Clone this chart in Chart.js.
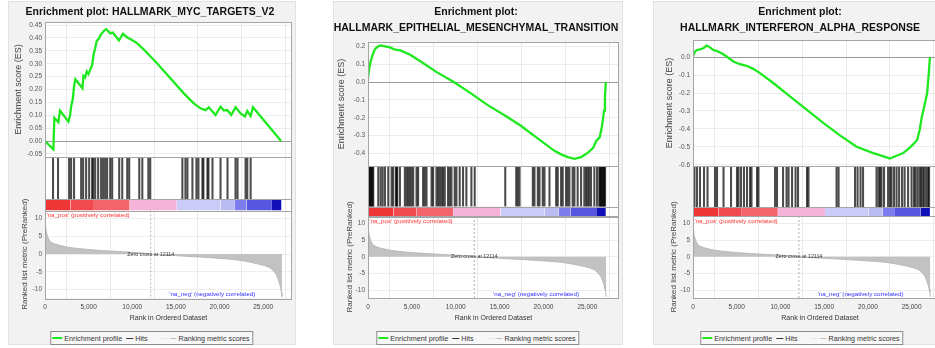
<!DOCTYPE html>
<html>
<head>
<meta charset="utf-8">
<script src="https://cdn.jsdelivr.net/npm/chart.js@4.4.0/dist/chart.umd.min.js"></script>
<style>
  body { margin: 0; width: 935px; height: 348px; overflow: hidden; background: #fff; position: relative; }
  .panel { position: absolute; top: 1px; height: 344px; background: #f2f2f2; border: 1px solid #e2e2e2; box-sizing: border-box; }
  .panel canvas { position: absolute; left: -1px; top: -2px; }
  .legend { position: absolute; top: 329px; left: 50%; transform: translateX(-50%); height: 14px; box-sizing: border-box;
            border: 1px solid #8a8a8a; background: #f7f7f7; display: flex; align-items: center; padding: 0 3px 0 1px;
            font: 7.2px "Liberation Sans", Arial, sans-serif; color: #333; white-space: nowrap; }
  .sw { display: inline-block; height: 0; border-top: 2px solid; }
</style>
</head>
<body>
<div class="panel" style="left:8px;width:288px">
  <canvas id="c1" width="288" height="326"></canvas>
  <div class="legend"><span class="sw" style="width:10px;border-color:#1ee81e;margin-right:2px"></span>Enrichment profile<span class="sw" style="width:7px;border-top-width:1px;border-color:#333;margin:0 2px 0 4px"></span>Hits<span class="sw" style="width:8px;border-top-width:1px;border-color:#e6e6e6;margin:0 2px 0 13px"></span><span class="sw" style="width:6px;border-top-width:1px;border-color:#bbb;margin-right:2px"></span>Ranking metric scores</div>
</div>
<div class="panel" style="left:333px;width:290px">
  <canvas id="c2" width="290" height="326"></canvas>
  <div class="legend"><span class="sw" style="width:10px;border-color:#1ee81e;margin-right:2px"></span>Enrichment profile<span class="sw" style="width:7px;border-top-width:1px;border-color:#333;margin:0 2px 0 4px"></span>Hits<span class="sw" style="width:8px;border-top-width:1px;border-color:#e6e6e6;margin:0 2px 0 13px"></span><span class="sw" style="width:6px;border-top-width:1px;border-color:#bbb;margin-right:2px"></span>Ranking metric scores</div>
</div>
<div class="panel" style="left:653px;width:298px">
  <canvas id="c3" width="298" height="326"></canvas>
  <div class="legend"><span class="sw" style="width:10px;border-color:#1ee81e;margin-right:2px"></span>Enrichment profile<span class="sw" style="width:7px;border-top-width:1px;border-color:#333;margin:0 2px 0 4px"></span>Hits<span class="sw" style="width:8px;border-top-width:1px;border-color:#e6e6e6;margin:0 2px 0 13px"></span><span class="sw" style="width:6px;border-top-width:1px;border-color:#bbb;margin-right:2px"></span>Ranking metric scores</div>
</div>

<script>
// tick values
const rankTicks = [0, 5000, 10000, 15000, 20000, 25000];
const metricTicks = [-10, -5, 0, 5, 10];
const mycTicks = [-0.05, 0, 0.05, 0.1, 0.15, 0.2, 0.25, 0.3, 0.35, 0.4, 0.45];
const emtTicks = [-0.4, -0.3, -0.2, -0.1, 0, 0.1, 0.2];
const ifnTicks = [-0.6, -0.5, -0.4, -0.3, -0.2, -0.1, 0];

// ranked list (shared by all three plots)
const metricRank = [0, 60, 150, 300, 500, 800, 1200, 1800, 2500, 3500, 4500, 5500, 6500, 7500, 8500, 9500, 10500, 11300, 12114,
  13000, 14000, 15000, 16000, 17000, 18000, 19000, 20000, 21000, 22000, 23000, 23800, 24500, 25200, 25800, 26200, 26500, 26750, 26900, 27000, 27080, 27150];
const metricValue = [10.2, 8.2, 6.4, 4.9, 3.9, 3.2, 2.8, 2.4, 2.0, 1.65, 1.4, 1.2, 1.0, 0.87, 0.72, 0.58, 0.42, 0.23, 0,
  -0.15, -0.3, -0.45, -0.6, -0.75, -0.9, -1.05, -1.22, -1.42, -1.65, -2.05, -2.45, -2.85, -3.3, -3.9, -4.8, -5.8, -7.3, -8.6, -9.7, -10.8, -12.0];
const zeroCross = 12114;

// phenotype colour bar
const cbarEdges = [0, 2900, 5500, 9700, 15100, 20100, 21700, 23100, 26000, 27100];
const cbarColors = ['#ee3636', '#f04a4e', '#f2636c', '#f5b3da', '#cbcbf7', '#bbbbf3', '#7c7cee', '#5656e0', '#1010b8'];

// HALLMARK_MYC_TARGETS_V2
const mycRank = [0, 958, 1073, 1532, 1724, 2682, 2873, 2988, 3180, 3333, 3486, 4291, 4406, 4597, 4789, 4980, 5248, 5402, 5555, 5747,
  5938, 6130, 6321, 6513, 6781, 7011, 7164, 7470, 7777, 8467, 8926, 9386, 9961, 10535, 11301, 12834, 14366, 15899, 17048, 17814,
  18389, 18772, 19040, 19538, 20113, 20496, 20879, 21339, 21837, 22411, 22909, 23178, 23561, 23829, 27050];
const mycES = [0, -0.032, 0.09, 0.073, 0.118, 0.075, 0.10, 0.133, 0.162, 0.214, 0.24, 0.205, 0.253, 0.247, 0.27, 0.26, 0.282, 0.295, 0.334, 0.36,
  0.39, 0.395, 0.408, 0.418, 0.429, 0.434, 0.429, 0.418, 0.421, 0.39, 0.416, 0.403, 0.392, 0.38, 0.356, 0.302, 0.244, 0.185, 0.146, 0.127,
  0.12, 0.131, 0.12, 0.101, 0.133, 0.118, 0.12, 0.101, 0.131, 0.107, 0.095, 0.117, 0.097, 0.131, 0];
const mycHits = [920, 1490, 2760, 2990, 3330, 4140, 4370, 4710, 5060, 5400, 5520, 5750, 6090, 6430, 6660, 6890, 7120, 7470, 7700, 8500,
  8850, 9420, 9650, 10800, 11150, 11840, 12060, 15740, 16090, 16320, 16890, 17350, 17580, 18040, 18150, 18610, 18730, 19190, 20110,
  20910, 21830, 22060, 22980, 23180, 23560];

// HALLMARK_EPITHELIAL_MESENCHYMAL_TRANSITION
const emtRank = [0, 150, 300, 530, 800, 1180, 1450, 1950, 2520, 3090, 3670, 4810, 5960, 7870, 9780, 11690, 13600, 15510, 17420, 19330,
  21240, 22000, 22770, 23530, 24300, 25060, 25630, 26010, 26400, 26650, 26900, 27000, 27100];
const emtES = [0.022, 0.078, 0.115, 0.153, 0.185, 0.2, 0.205, 0.2, 0.194, 0.181, 0.177, 0.153, 0.116, 0.054, 0.0, -0.062, -0.128, -0.185, -0.245, -0.315,
  -0.385, -0.405, -0.42, -0.43, -0.42, -0.395, -0.37, -0.33, -0.31, -0.25, -0.16, -0.08, 0.0];
const emtHits = [30, 120, 230, 330, 420, 520, 600, 1170, 1440, 1670, 1930, 2310, 2690, 2870, 3180, 3260, 3330, 3640, 4200, 4400, 4580, 4770,
  4960, 5150, 5530, 5710, 6280, 6470, 6670, 7240, 7420, 7800, 7990, 8180, 8370, 8550, 8750, 9120, 9320, 9510, 9880, 10080, 10450, 10830,
  11210, 11780, 12160, 15640, 16890, 17070, 17270, 18780, 18970, 19350, 19540, 19910, 20110, 20680, 21440, 21620, 22000, 22190, 22570,
  22760, 22950, 23320, 23520, 23890, 24280, 24650, 24850, 25030, 25200, 25410, 25790, 26100, 26350, 26450, 26550, 26640, 26740, 26830,
  26920, 27010];

// HALLMARK_INTERFERON_ALPHA_RESPONSE
const ifnRank = [0, 150, 420, 800, 1180, 1560, 1940, 2320, 2700, 3280, 3850, 4610, 5370, 6130, 6900, 7660, 9180, 11090, 12990, 14900,
  16800, 18710, 20610, 21000, 22140, 22520, 23280, 24040, 24800, 25380, 25650, 25950, 26140, 26330, 26560, 26780, 26950, 27100];
const ifnES = [0.004, 0.026, 0.04, 0.044, 0.05, 0.065, 0.055, 0.04, 0.035, 0.022, 0.004, -0.024, -0.039, -0.048, -0.065, -0.089, -0.144, -0.218, -0.292, -0.366,
  -0.436, -0.5, -0.535, -0.541, -0.559, -0.565, -0.55, -0.535, -0.504, -0.476, -0.46, -0.4, -0.34, -0.3, -0.25, -0.2, -0.1, 0.0];
const ifnHits = [170, 460, 800, 1260, 1660, 2520, 2750, 3490, 4350, 5030, 5210, 5490, 5830, 6180, 6520, 6690, 7320, 7490, 9380, 9610,
  10300, 10700, 10930, 11330, 11730, 12010, 13040, 13210, 16420, 16650, 18530, 18820, 19160, 19450, 20990, 21220, 21390, 21560, 21850,
  22310, 22540, 22710, 22990, 23280, 23570, 23910, 24200, 24600, 25000, 25280, 25450, 25680, 25910, 26080, 26260, 26430, 26660, 26880, 27000];

const negLabelRank = 14250;

Chart.defaults.font.family = '"Liberation Sans", Arial, sans-serif';
Chart.defaults.color = '#555';

// white plot background, frames, zero-cross marker and region labels
const gseaDecor = {
  id: 'gseaDecor',
  beforeDraw(chart) {
    const { ctx, chartArea: a } = chart;
    ctx.save();
    ctx.fillStyle = '#fff';
    ctx.fillRect(a.left, a.top, a.width, a.height);
    ctx.restore();
  },
  afterDatasetsDraw(chart) {
    const { ctx, chartArea: a, scales } = chart;
    const x = scales.x, m = scales.metric;
    ctx.save();
    const zx = x.getPixelForValue(zeroCross);
    ctx.strokeStyle = '#9a9a9a';
    ctx.lineWidth = 0.8;
    ctx.setLineDash([2, 2]);
    ctx.beginPath();
    ctx.moveTo(zx, m.top);
    ctx.lineTo(zx, m.bottom);
    ctx.stroke();
    ctx.setLineDash([]);

    ctx.font = '5.3px "Liberation Sans"';
    ctx.fillStyle = '#333';
    ctx.textAlign = 'center';
    ctx.textBaseline = 'middle';
    ctx.fillText('Zero cross at ' + zeroCross, zx, m.getPixelForValue(0));

    ctx.font = '6.2px "Liberation Sans"';
    ctx.textAlign = 'left';
    ctx.fillStyle = '#ff3030';
    ctx.fillText("'na_pos' (positively correlated)", a.left + 1.5, m.top + 5);
    ctx.fillStyle = '#3030ff';
    ctx.fillText("'na_neg' (negatively correlated)", x.getPixelForValue(negLabelRank), m.bottom - 4);

    ctx.strokeStyle = '#a5a5a5';
    ctx.lineWidth = 1;
    ['es', 'hits', 'cbar', 'metric'].forEach(id => {
      const s = scales[id];
      ctx.strokeRect(Math.round(a.left) + 0.5, Math.round(s.top) + 0.5, Math.round(a.width) - 1, Math.round(s.bottom - s.top));
    });
    ctx.restore();
  }
};

const useTicks = list => s => { s.ticks = list.map(v => ({ value: v })); };

function buildPanel(canvasId, p) {
  const datasets = [];
  datasets.push({
    type: 'line', label: 'Enrichment profile', yAxisID: 'es',
    data: p.rank.map((r, i) => ({ x: r, y: p.es[i] })),
    borderColor: '#1ee81e', borderWidth: 2.3, pointRadius: 0, tension: 0, fill: false
  });
  datasets.push({
    type: 'bar', label: 'Hits', yAxisID: 'hits',
    data: p.hits.map(r => ({ x: r, y: [0, 1] })),
    backgroundColor: 'rgba(0,0,0,0.7)', barThickness: 1.4
  });
  for (let i = 0; i < cbarColors.length; i++) {
    datasets.push({
      type: 'line', yAxisID: 'cbar',
      data: [{ x: cbarEdges[i], y: 1 }, { x: cbarEdges[i + 1], y: 1 }],
      fill: 'origin', backgroundColor: cbarColors[i], borderColor: 'rgba(0,0,0,0)', borderWidth: 0, pointRadius: 0
    });
  }
  datasets.push({
    type: 'line', label: 'Ranking metric scores', yAxisID: 'metric',
    data: metricRank.map((r, i) => ({ x: r, y: metricValue[i] })),
    fill: 'origin', backgroundColor: '#c2c2c2', borderColor: '#b3b3b3', borderWidth: 0.8, pointRadius: 0
  });

  const tickFont = { size: 6.5 };
  return new Chart(document.getElementById(canvasId), {
    type: 'line',
    data: { datasets },
    plugins: [gseaDecor],
    options: {
      responsive: false,
      animation: false,
      events: [],
      layout: { padding: { left: 0, right: 4, top: 0, bottom: 0 } },
      plugins: {
        legend: { display: false },
        tooltip: { enabled: false },
        title: {
          display: true, text: p.title, color: '#111',
          font: { size: 10.5, weight: 'bold', lineHeight: 16 / 10.5 },
          padding: { top: 4, bottom: p.titlePad }
        }
      },
      scales: {
        x: {
          type: 'linear', min: 0, max: p.xMax, offset: false,
          afterBuildTicks: useTicks(rankTicks),
          ticks: { autoSkip: false, maxRotation: 0, padding: 5, font: tickFont, color: '#444' },
          grid: { color: '#e9e9e9', drawTicks: false },
          border: { display: false },
          title: { display: true, text: 'Rank in Ordered Dataset', color: '#333', font: { size: 7 }, padding: { top: 0, bottom: 3.8 } },
          afterFit: s => { s.height = 28; }
        },
        es: {
          type: 'linear', position: 'left', stack: 'gsea', stackWeight: p.h[0], weight: 4,
          min: p.esMin, max: p.esMax,
          afterBuildTicks: useTicks(p.ticks),
          ticks: { autoSkip: false, padding: 3, font: tickFont, color: '#555', callback: v => v.toFixed(p.dec) },
          grid: { drawTicks: false, color: c => Math.abs(c.tick.value) < 1e-9 ? '#9a9a9a' : '#ececec' },
          border: { display: false },
          title: { display: true, text: 'Enrichment score (ES)', color: '#444', font: { size: 9 }, padding: { top: p.esTitlePad, bottom: 0 } },
          afterFit: s => { s.width = p.axisW; }
        },
        hits: {
          type: 'linear', position: 'left', stack: 'gsea', stackWeight: p.h[1], weight: 3,
          min: 0, max: 1,
          ticks: { display: false }, grid: { display: false }, border: { display: false },
          afterFit: s => { s.width = p.axisW; }
        },
        cbar: {
          type: 'linear', position: 'left', stack: 'gsea', stackWeight: p.h[2], weight: 2,
          min: 0, max: 1,
          ticks: { display: false }, grid: { display: false }, border: { display: false },
          afterFit: s => { s.width = p.axisW; }
        },
        metric: {
          type: 'linear', position: 'left', stack: 'gsea', stackWeight: p.h[3], weight: 1,
          min: -12.4, max: 12.3,
          afterBuildTicks: useTicks(metricTicks),
          ticks: { autoSkip: false, padding: 3, font: tickFont, color: '#555' },
          grid: { drawTicks: false, color: '#eeeeee' },
          border: { display: false },
          title: { display: true, text: 'Ranked list metric (PreRanked)', color: '#444', font: { size: 8 }, padding: { top: p.mTitlePad, bottom: 0 } },
          afterFit: s => { s.width = p.axisW; }
        }
      }
    }
  });
}

buildPanel('c1', {
  title: 'Enrichment plot: HALLMARK_MYC_TARGETS_V2', titlePad: 2,
  rank: mycRank, es: mycES, hits: mycHits, ticks: mycTicks,
  xMax: 28300, esMin: -0.062, esMax: 0.462, dec: 2,
  h: [135, 42, 11.5, 87.5], axisW: 37, esTitlePad: 5, mTitlePad: 12
});
buildPanel('c2', {
  title: ['Enrichment plot:', 'HALLMARK_EPITHELIAL_MESENCHYMAL_TRANSITION'], titlePad: 6,
  rank: emtRank, es: emtES, hits: emtHits, ticks: emtTicks,
  xMax: 28600, esMin: -0.47, esMax: 0.224, dec: 1,
  h: [124, 40.5, 9.5, 82], axisW: 35, esTitlePad: 3.3, mTitlePad: 11.5
});
buildPanel('c3', {
  title: ['Enrichment plot:', 'HALLMARK_INTERFERON_ALPHA_RESPONSE'], titlePad: 4,
  rank: ifnRank, es: ifnES, hits: ifnHits, ticks: ifnTicks,
  xMax: 29050, esMin: -0.607, esMax: 0.096, dec: 1,
  h: [126, 41, 9, 82], axisW: 40, esTitlePad: 10.9, mTitlePad: 15.5
});
</script>
</body>
</html>
